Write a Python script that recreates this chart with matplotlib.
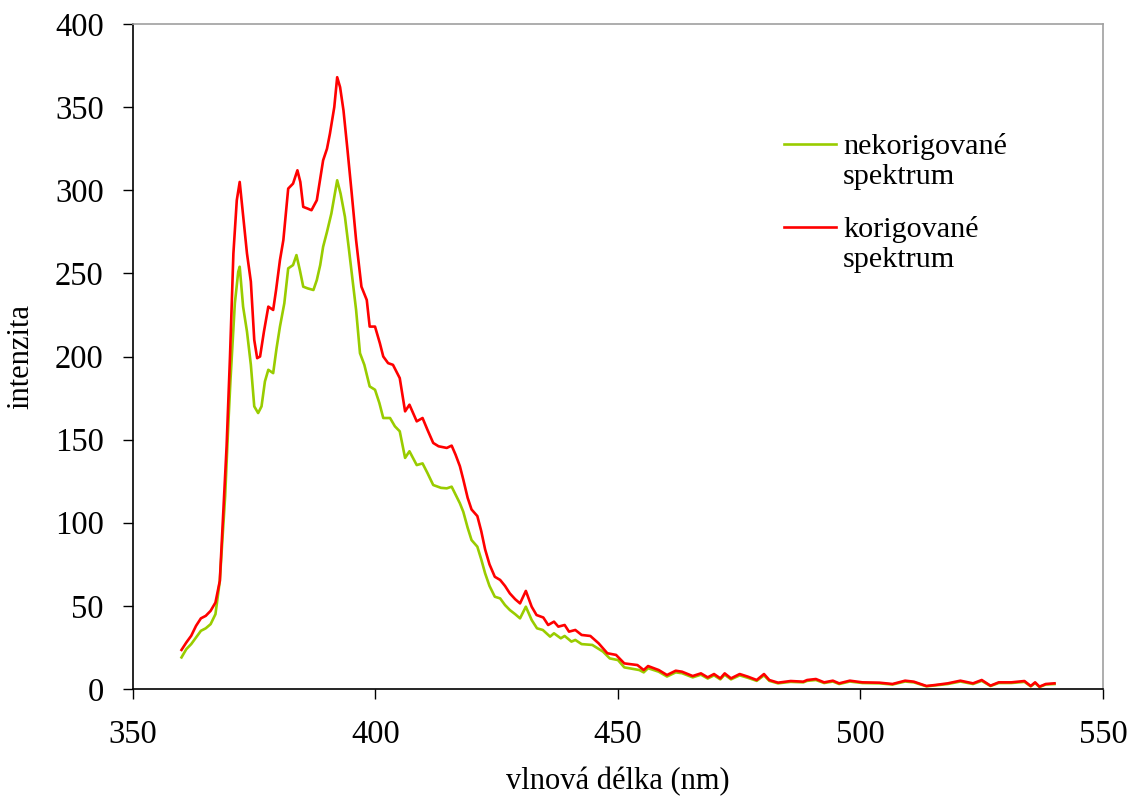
import numpy as np
import matplotlib
matplotlib.use("Agg")
import matplotlib.pyplot as plt

# korigovane spektrum (cervena)
x_kor = [360, 361, 362, 363, 364, 365, 366, 367, 367.9, 368.6, 369.3, 370, 370.7, 371.4, 372,
         372.7, 373.5, 374.3, 375, 375.6, 376.2, 377, 377.9, 378.9, 379.5, 380.3, 381, 382, 383,
         383.9, 384.5, 385.1, 386, 386.8, 387.9, 388.5, 389.2, 390, 390.6, 391.5, 392.1, 392.7,
         393.4, 394.2, 395.1, 396, 397.1, 398.2, 398.8, 399.9, 400.9, 401.6, 402.6, 403.6, 405,
         406.1, 407, 408.5, 409.7, 410.7, 411.9, 413, 414.7, 415.7, 416.5, 417.4, 418.1, 419,
         419.8, 421, 421.8, 422.6, 423.5, 424.6, 425.7, 426.7, 427.7, 428.8, 429.8, 431, 432.2,
         433.2, 434.6, 435.6, 436.8, 437.7, 439, 439.9, 441.2, 442.5, 444.3, 446, 447.8, 449.6,
         451.3, 454, 455.3, 456.2, 458.4, 460.1, 461.9, 463.2, 465.4, 467.1, 468.5, 469.8, 471.1,
         472, 473.3, 475.1, 476.8, 478.6, 480.1, 481.2, 483, 485.6, 488.2, 489, 490.8, 492.5,
         494.3, 495.6, 497.8, 500.4, 503.9, 506.6, 509.2, 511, 513.6, 515.4, 518, 520.6, 523.2,
         525, 526.8, 528.5, 531.1, 533.8, 535.1, 536, 536.9, 538.2, 540]
y_kor = [23.5, 28, 32, 38, 42.5, 44, 47, 52, 65, 105, 146, 200, 262, 294, 305,
         285, 262, 245, 210, 199, 200, 215, 230, 228, 240, 258, 270, 301, 304,
         312, 305, 290, 289, 288, 294, 305, 318, 325, 334, 350, 368, 362,
         348, 325, 298, 270, 242, 234, 218, 218, 208, 200, 196, 195, 187,
         167, 171, 161, 163, 156, 148, 146, 145, 146.4, 141, 134, 126, 115,
         108, 104, 95, 84, 75, 67.5, 65.6, 62, 57.5, 54, 51.5, 59, 49.5,
         44.5, 43, 38.5, 40.5, 37.5, 38.5, 34.5, 35.5, 32.5, 31.9, 27.5, 21.5, 20.5,
         15.4, 14.4, 11.4, 13.8, 11.4, 8.4, 11, 10.4, 7.8, 9.4, 7, 9, 6.4,
         9.4, 6.4, 9, 7.4, 5.4, 9, 5.4, 3.8, 4.8, 4.4, 5.4, 6, 4,
         5, 3.4, 5, 4, 3.8, 3, 5, 4.4, 1.8, 2.4, 3.4, 5, 3.4,
         5.4, 2, 4, 4, 4.8, 1.8, 4, 1.4, 3, 3.4]

# nekorigovane spektrum (zelena)
x_nekor = [360, 361, 362, 363, 364, 365, 366, 367, 367.9, 369, 369.6, 370.1, 371, 371.7, 372,
           372.7, 373.5, 374.3, 375, 375.8, 376.5, 377.2, 377.9, 378.9, 379.6, 380.3, 381.2, 382,
           383, 383.7, 384.4, 385.1, 386, 387.2, 387.9, 388.6, 389.2, 390, 390.9, 392.1, 392.8,
           393.7, 394.5, 395.1, 396, 396.8, 397.7, 398.8, 399.9, 400.8, 401.6, 403, 404, 405,
           406.1, 407, 408.5, 409.7, 410.7, 411.9, 413.5, 414.7, 415.7, 416.5, 417.4, 418.1, 419,
           419.8, 421, 421.8, 422.6, 423.5, 424.6, 425.7, 426.7, 427.7, 428.8, 429.8, 431, 432.2,
           433.3, 434.5, 436, 436.8, 438.2, 439, 440.4, 441.2, 442.5, 444.7, 446.9, 448.3, 450,
           451.3, 454.4, 455.3, 456.2, 458.4, 460.1, 461.9, 463.2, 465.4, 467.1, 468.5, 469.8,
           471.1, 472, 473.3, 475.1, 476.8, 478.6, 480.1, 481.2, 483, 485.6, 488.2, 489, 490.8,
           492.5, 494.3, 495.6, 497.8, 500.4, 503.9, 506.6, 509.2, 511, 513.6, 515.4, 518, 520.6,
           523.2, 525, 526.8, 528.5, 531.1, 533.8, 535.1, 536, 536.9, 538.2, 540]
y_nekor = [19, 24, 27, 31, 35, 36.5, 39, 45, 65, 116, 156, 186, 232, 251, 254,
           230, 215, 195, 170, 166, 170, 185, 192, 190, 205, 218, 232, 253,
           255, 261, 252, 242, 241, 240, 246, 255, 266, 275, 286, 306, 298,
           284, 265, 250, 228, 202, 195, 182, 180, 172, 163, 163, 158, 155,
           139, 143, 134.7, 135.7, 130, 122.7, 121, 120.7, 121.7, 117, 111.7, 106.6, 97,
           89.6, 85.6, 78, 69.6, 62, 55.5, 54.5, 50.5, 47.5, 45, 42.5, 49.5, 41.5,
           36.5, 35.5, 31.5, 33.5, 30.5, 31.9, 28.5, 29.5, 27, 26.5, 22.5, 18.4, 17.4,
           13, 11.4, 10, 12.5, 10.4, 7.5, 10, 9.5, 7, 8.6, 6.3, 8.2,
           5.8, 8.6, 5.8, 8.2, 6.7, 4.9, 8.2, 4.9, 3.4, 4.3, 4, 4.9, 5.4,
           3.6, 4.5, 3, 4.5, 3.6, 3.4, 2.7, 4.5, 4, 1.6, 2.2, 3, 4.5,
           3, 4.9, 1.8, 3.6, 3.6, 4.3, 1.6, 3.6, 1.2, 2.7, 3]

x_ticks = [350, 400, 450, 500, 550]
y_ticks = [0, 50, 100, 150, 200, 250, 300, 350, 400]

plt.rcParams['font.family'] = ['Liberation Serif', 'DejaVu Serif']

fig = plt.figure(figsize=(11.3, 7.98), dpi=100)
ax = fig.add_axes([0.1177, 0.1366, 0.8584, 0.8333])

ax.plot(x_nekor, y_nekor, color="#99cc00", lw=1.9, label="nekorigované\nspektrum")
ax.plot(x_kor, y_kor, color="#ff0000", lw=1.9, label="korigované\nspektrum")

ax.set_xlim(350, 550)
ax.set_ylim(0, 400)
ax.set_xticks(x_ticks)
ax.set_yticks(y_ticks)
ax.tick_params(direction="out", length=7, width=1, labelsize=23.5, pad=14, colors="black")
ax.tick_params(axis="x", pad=15)

ax.spines["top"].set_color("#a0a0a0")
ax.spines["right"].set_color("#a0a0a0")
ax.spines["left"].set_color("black")
ax.spines["bottom"].set_color("black")
for s in ax.spines.values():
    s.set_linewidth(1.2)

ax.set_xlabel("vlnová délka (nm)", fontsize=22, labelpad=12)
ax.set_ylabel("intenzita", fontsize=22, labelpad=14)

leg = ax.legend(loc="upper left", bbox_to_anchor=(0.6435, 0.877), frameon=False, fontsize=21.7,
                handlelength=1.7, handletextpad=0.25, labelspacing=0.85)
# handle zarovnat s prvnim radkem popisku
for h in leg.legend_handles:
    h.set_ydata(np.asarray(h.get_ydata()) + 12)

fig.savefig("out.png", dpi=100)
